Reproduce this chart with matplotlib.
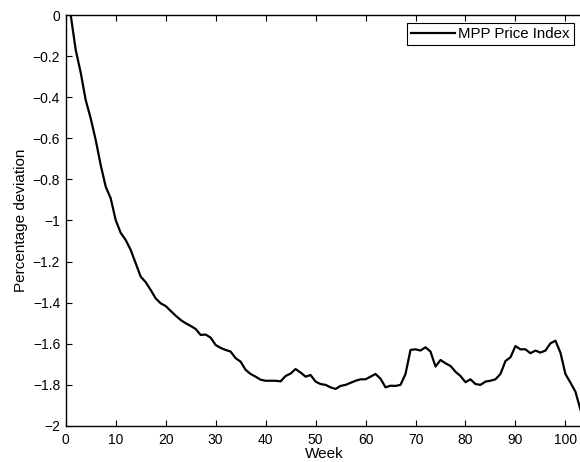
import numpy as np
import matplotlib
matplotlib.use("Agg")
import matplotlib.pyplot as plt
from matplotlib.ticker import FuncFormatter

plt.rcParams['font.family'] = ['Liberation Sans', 'DejaVu Sans']

# weekly percentage deviation of the MPP price index (weeks 1..103)
weeks = list(range(1, 104))
price_index = [
    0.000, -0.170, -0.280, -0.414, -0.503, -0.608, -0.730, -0.835, -0.892, -0.998,
    -1.060, -1.095, -1.143, -1.208, -1.273, -1.300, -1.338, -1.379, -1.403, -1.416,
    -1.440, -1.463, -1.484, -1.500, -1.513, -1.528, -1.557, -1.555, -1.570, -1.606,
    -1.620, -1.630, -1.638, -1.670, -1.687, -1.727, -1.747, -1.760, -1.775, -1.780,
    -1.780, -1.780, -1.783, -1.757, -1.745, -1.723, -1.740, -1.760, -1.752, -1.784,
    -1.796, -1.800, -1.812, -1.820, -1.805, -1.800, -1.790, -1.780, -1.773, -1.773,
    -1.760, -1.747, -1.770, -1.812, -1.804, -1.805, -1.800, -1.747, -1.630, -1.627,
    -1.633, -1.617, -1.638, -1.711, -1.679, -1.695, -1.708, -1.736, -1.757, -1.787,
    -1.773, -1.796, -1.800, -1.784, -1.780, -1.773, -1.747, -1.684, -1.666, -1.611,
    -1.627, -1.627, -1.646, -1.633, -1.643, -1.633, -1.598, -1.585, -1.643, -1.747,
    -1.789, -1.833, -1.920,
]
x_ticks = list(range(0, 101, 10))
y_ticks = [round(-0.2 * i, 1) for i in range(11)]


def matlab_fmt(v, pos):
    if abs(v) < 1e-9:
        return '0'
    return ('%g' % v).replace('-', '\u2212')


fig = plt.figure(figsize=(5.8, 4.62), dpi=100)
ax = fig.add_axes([0.1133, 0.078, 0.8900, 0.8895])

ax.plot(weeks, price_index, color='black', linewidth=1.6, label='MPP Price Index')

ax.set_xlim(0, 103.3)
ax.set_ylim(-2, 0)
ax.set_xticks(x_ticks)
ax.set_yticks(y_ticks)
ax.xaxis.set_major_formatter(FuncFormatter(matlab_fmt))
ax.yaxis.set_major_formatter(FuncFormatter(matlab_fmt))

ax.tick_params(direction='in', top=True, right=False, length=4, width=0.8,
               labelsize=10, pad=4)
ax.tick_params(axis='x', pad=5)
for s in ax.spines.values():
    s.set_linewidth(1.0)

ax.set_xlabel('Week', fontsize=11, labelpad=0)
ax.set_ylabel('Percentage deviation', fontsize=11, labelpad=3)

leg = ax.legend(loc='upper right', fancybox=False, edgecolor='black', framealpha=1,
                fontsize=10.8, handlelength=2.9, handletextpad=0.25, borderpad=0.25,
                borderaxespad=0.55)
leg.get_frame().set_linewidth(0.8)

fig.savefig('out.png', dpi=100)
